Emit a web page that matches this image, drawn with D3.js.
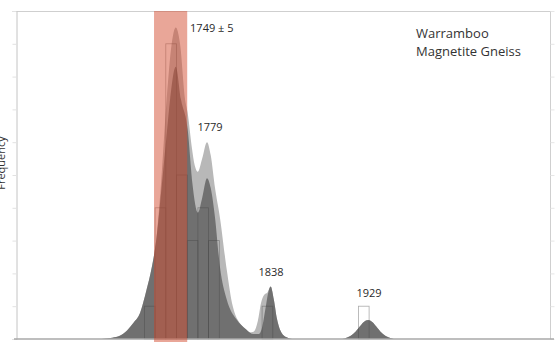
<!DOCTYPE html>
<html><head><meta charset="utf-8">
<script src="https://cdn.jsdelivr.net/npm/d3@7"></script>
<style>html,body{margin:0;padding:0;background:#fff}svg{display:block}</style>
</head><body>
<svg id="chart" width="557" height="342"></svg>
<script>
// Histogram bins (Ma) and counts
const binStarts = [1720, 1730, 1740, 1750, 1760, 1770, 1780, 1830, 1920];
const binCounts = [1, 4, 9, 5, 3, 4, 3, 1, 1];
const binWidth = 10;

// Probability density curve, all analyses (light grey), in count units
const lightAges = [1680,1690,1697,1704,1710,1716,1722,1727,1731,1735,1740.8,1745.5,1749.3,1753.3,1758,1760.4,1764.5,1767,1770,1774,1778.5,1782,1786,1790.6,1797,1802.6,1812,1818,1822,1826,1829,1832,1835,1838,1841,1844,1848,1853,1858,1905,1910,1915,1920,1925,1929,1933,1938,1943,1948,1953];
const lightVals = [0,0.04,0.1,0.27,0.5,0.8,1.5,2.2,3.0,4.5,7.3,9.0,9.5,9.0,7.3,6.9,5.8,5.3,5.1,5.5,6.0,5.6,4.6,3.7,2.1,1.0,0.37,0.2,0.22,0.55,1.1,1.35,1.42,1.6,1.2,0.6,0.2,0.05,0,0,0.05,0.15,0.33,0.52,0.58,0.52,0.33,0.15,0.05,0];

// Probability density curve, concordant analyses (dark grey)
const darkAges = [1680,1690,1697,1704,1710,1716,1722,1727,1731,1736,1741,1744,1749.3,1754.2,1760.4,1765,1770,1774,1778.5,1782,1786,1790.6,1797,1806,1815,1822,1827,1830,1833,1836,1838,1841,1844,1848,1853,1858,1905,1910,1915,1920,1925,1929,1933,1938,1943,1948,1953];
const darkVals = [0,0.04,0.1,0.27,0.5,0.8,1.5,2.2,3.0,4.6,6.3,7.3,8.3,7.3,6.4,4.7,3.85,4.3,4.9,4.6,3.7,2.2,1.2,0.6,0.3,0.15,0.15,0.35,0.9,1.45,1.6,1.2,0.6,0.2,0.05,0,0,0.05,0.15,0.33,0.52,0.58,0.52,0.33,0.15,0.05,0];

// Highlighted age band and labels
const bandRange = [1729, 1760];
const peakLabels = ["1749 ± 5", "1779", "1838", "1929"];
const peakLabelAges = [1783, 1781.3, 1838.3, 1929.9];
const peakLabelVals = [9.36, 6.34, 1.93, 1.27];
const yTicks = [0,1,2,3,4,5,6,7,8,9,10];
const titleLines = ["Warramboo", "Magnetite Gneiss"];
const yAxisTitle = "Frequency";

(function () {
const svg = d3.select("#chart");
const W = 557, H = 342;
const mLeft = 16, mRight = 551, mTop = 11, mBottom = 339;

const x = d3.scaleLinear().domain([1600, 2100]).range([mLeft, mRight]);
const y = d3.scaleLinear().domain([0, 10]).range([mBottom, mTop]);

const FONT = "'Open Sans', 'Noto Sans', sans-serif";

// frame: top and right light borders
svg.append("line").attr("x1", mLeft).attr("x2", mRight).attr("y1", mTop + 0.5).attr("y2", mTop + 0.5)
  .attr("stroke", "#cfcfcf").attr("stroke-width", 1);
svg.append("line").attr("x1", mRight - 0.5).attr("x2", mRight - 0.5).attr("y1", mTop).attr("y2", mBottom)
  .attr("stroke", "#cfcfcf").attr("stroke-width", 1);

// left axis
const yAxis = d3.axisLeft(y).tickValues(yTicks).tickSize(4).tickFormat("");
const gy = svg.append("g").attr("transform", `translate(${mLeft + 0.5},0)`).call(yAxis);
gy.select(".domain").attr("stroke", "#c4c4c4");
gy.selectAll(".tick line").attr("stroke", "#e2e2e2");

// right axis ticks (faint)
const yAxisR = d3.axisRight(y).tickValues(yTicks).tickSize(4).tickFormat("");
const gyr = svg.append("g").attr("transform", `translate(${mRight - 0.5},0)`).call(yAxisR);
gyr.select(".domain").remove();
gyr.selectAll(".tick line").attr("stroke", "#e6e6e6");

// density areas
const lightData = lightAges.map((a, i) => [a, lightVals[i]]);
const darkData = darkAges.map((a, i) => [a, darkVals[i]]);
const area = d3.area().x(d => x(d[0])).y0(y(0)).y1(d => y(d[1])).curve(d3.curveMonotoneX);

svg.append("path").datum(lightData).attr("d", area).attr("fill", "#b8b8b8");
svg.append("path").datum(darkData).attr("d", area).attr("fill", "#707070");

// histogram outlines
svg.append("g").selectAll("rect").data(binStarts.map((s, i) => ({s, c: binCounts[i]})))
  .join("rect")
  .attr("x", d => x(d.s))
  .attr("y", d => y(d.c))
  .attr("width", d => x(d.s + binWidth) - x(d.s))
  .attr("height", d => y(0) - y(d.c))
  .attr("fill", "none")
  .attr("stroke", "#444")
  .attr("stroke-opacity", 0.45)
  .attr("stroke-width", 0.8);

// bottom axis line
svg.append("line").attr("x1", mLeft - 2).attr("x2", mRight + 3).attr("y1", mBottom).attr("y2", mBottom)
  .attr("stroke", "#a8a8a8").attr("stroke-width", 1.6);

// highlighted band
svg.append("rect")
  .attr("x", x(bandRange[0])).attr("width", x(bandRange[1]) - x(bandRange[0]))
  .attr("y", mTop).attr("height", H - mTop)
  .attr("fill", "rgb(212,78,50)").attr("fill-opacity", 0.5);

// peak labels
svg.append("g").selectAll("text").data(peakLabels).join("text")
  .attr("x", (d, i) => x(peakLabelAges[i]))
  .attr("y", (d, i) => y(peakLabelVals[i]))
  .attr("text-anchor", "middle")
  .attr("font-family", FONT).attr("font-size", 11).attr("fill", "#2a2a2a")
  .text(d => d);

// sample title
svg.append("g").selectAll("text").data(titleLines).join("text")
  .attr("x", 416).attr("y", (d, i) => 38 + i * 17.5)
  .attr("font-family", FONT).attr("font-size", 13).attr("fill", "#333")
  .text(d => d);

// y axis title (clipped at left edge, as in the original figure)
svg.append("text")
  .attr("transform", `translate(4.5,${(mTop + mBottom) / 2 - 12}) rotate(-90)`)
  .attr("text-anchor", "middle")
  .attr("font-family", FONT).attr("font-size", 11).attr("fill", "#333")
  .text(yAxisTitle);
})();
</script>
</body></html>
